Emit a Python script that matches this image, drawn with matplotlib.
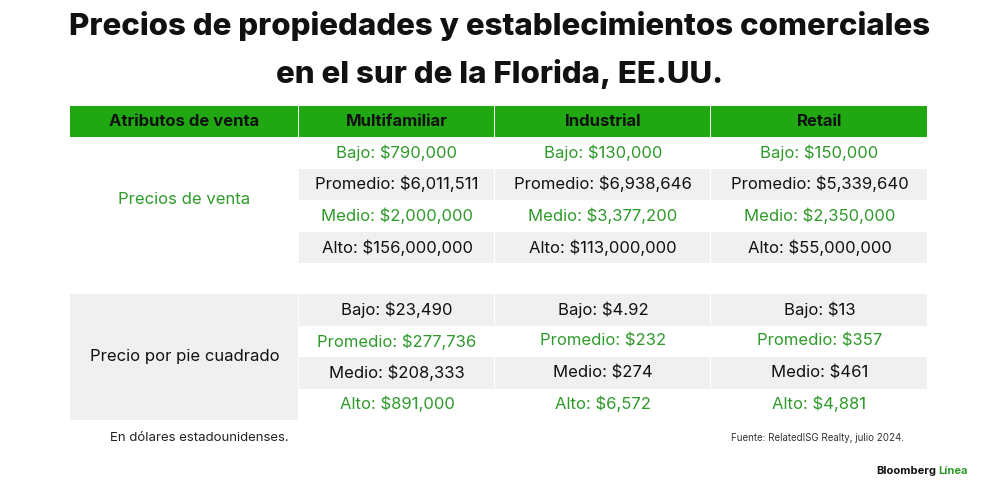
import matplotlib
matplotlib.use("Agg")
import matplotlib.pyplot as plt
from matplotlib.patches import Rectangle

title_lines = ["Precios de propiedades y establecimientos comerciales", "en el sur de la Florida, EE.UU."]
headers = ["Atributos de venta", "Multifamiliar", "Industrial", "Retail"]
sections = ["Precios de venta", "Precio por pie cuadrado"]
labels = ["Bajo", "Promedio", "Medio", "Alto"]
precios_venta = [["$790,000", "$130,000", "$150,000"],
                 ["$6,011,511", "$6,938,646", "$5,339,640"],
                 ["$2,000,000", "$3,377,200", "$2,350,000"],
                 ["$156,000,000", "$113,000,000", "$55,000,000"]]
precio_pie = [["$23,490", "$4.92", "$13"],
              ["$277,736", "$232", "$357"],
              ["$208,333", "$274", "$461"],
              ["$891,000", "$6,572", "$4,881"]]
note = "En dólares estadounidenses."
source = "Fuente: RelatedISG Realty, julio 2024."

GREEN_BG = "#1fa812"
GREEN_TX = "#2f9a2a"
GRAY = "#f0f0f0"
plt.rcParams['font.family'] = ['Inter', 'DejaVu Sans']

fig = plt.figure(figsize=(10, 5), dpi=100)
ax = fig.add_axes([0, 0, 1, 1])
ax.set_xlim(0, 1000); ax.set_ylim(500, 0); ax.axis("off")

for i, t in enumerate(title_lines):
    ax.text(500, 26 + i * 48, t, ha="center", va="center", fontsize=22.5, fontweight="heavy", color="#111111")

cols = [70, 299, 495, 711, 928]
for c in range(4):
    ax.add_patch(Rectangle((cols[c], 106), cols[c+1] - cols[c] - 1.5, 31, color=GREEN_BG, lw=0))
    ax.text((cols[c] + cols[c+1]) / 2, 121.5, headers[c], ha="center", va="center",
            fontsize=12, fontweight="bold", color="#111111")

rh = 31.5
starts = [137, 294]
datas = [precios_venta, precio_pie]
for s in range(2):
    y0 = starts[s]
    if s == 1:
        ax.add_patch(Rectangle((cols[0], y0), cols[1] - cols[0] - 1.5, rh * 4, color=GRAY, lw=0))
    ax.text((cols[0] + cols[1]) / 2, y0 + rh * 2, sections[s], ha="center", va="center",
            fontsize=12, color=GREEN_TX if s == 0 else "#111111")
    for r in range(4):
        y = y0 + r * rh
        gray = (r % 2 == 1) if s == 0 else (r % 2 == 0)
        green = (r % 2 == 0) if s == 0 else (r % 2 == 1)
        for c in range(3):
            if gray:
                ax.add_patch(Rectangle((cols[c+1], y), cols[c+2] - cols[c+1] - 1.5, rh, color=GRAY, lw=0))
            ax.text((cols[c+1] + cols[c+2]) / 2, y + rh / 2, f"{labels[r]}: {datas[s][r][c]}",
                    ha="center", va="center", fontsize=12,
                    color=GREEN_TX if green else "#111111")

ax.text(110, 438, note, ha="left", va="center", fontsize=9.5, color="#222222")
ax.text(904, 438, source, ha="right", va="center", fontsize=7, color="#333333")
ax.text(936, 471, "Bloomberg", ha="right", va="center", fontsize=8, fontweight="bold", color="#111111")
ax.text(938, 471, "Línea", ha="left", va="center", fontsize=8, fontweight="bold", color=GREEN_TX)

fig.savefig("out.png", dpi=100, facecolor="white")
